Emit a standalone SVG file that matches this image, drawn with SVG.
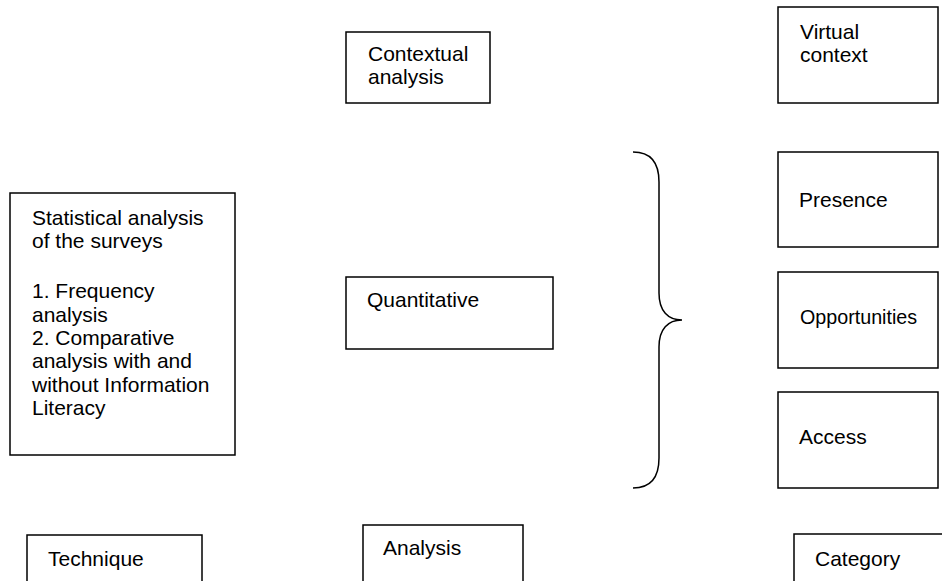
<svg xmlns="http://www.w3.org/2000/svg" width="942" height="581" viewBox="0 0 942 581">
<style>
.box{fill:#fff;stroke:#000;stroke-width:1.5}
.t{font-family:"Liberation Sans",Arial,sans-serif;font-size:21px;fill:#000}
.br{fill:none;stroke:#000;stroke-width:1.5}
</style>
<rect width="942" height="581" fill="#fff"/>
<g id="connectors">
<path class="br" d="M633,152 C652,152 659,164 659,182 L659,293 C659,311 668,320 682,320 C668,320 659,329 659,347 L659,458 C659,476 652,488 633,488"/>
</g>
<g id="contextual">
<rect class="box" x="346" y="32" width="144" height="71"/>
<text class="t" x="368" y="61">Contextual</text>
<text class="t" x="368" y="84">analysis</text>
</g>
<g id="virtual">
<rect class="box" x="778" y="7" width="160" height="96"/>
<text class="t" x="800" y="39">Virtual</text>
<text class="t" x="800" y="62">context</text>
</g>
<g id="statistical">
<rect class="box" x="10" y="193" width="225" height="262"/>
<text class="t" x="32" y="225">Statistical analysis</text>
<text class="t" x="32" y="248">of the surveys</text>
<text class="t" x="32" y="298">1. Frequency</text>
<text class="t" x="32" y="322">analysis</text>
<text class="t" x="32" y="345">2. Comparative</text>
<text class="t" x="32" y="368">analysis with and</text>
<text class="t" x="32" y="392">without Information</text>
<text class="t" x="32" y="415">Literacy</text>
</g>
<g id="quantitative">
<rect class="box" x="346" y="277" width="207" height="72"/>
<text class="t" x="367" y="307">Quantitative</text>
</g>
<g id="presence">
<rect class="box" x="778" y="152" width="160" height="95"/>
<text class="t" x="799" y="207">Presence</text>
</g>
<g id="opportunities">
<rect class="box" x="778" y="272" width="160" height="96"/>
<text class="t" x="800" y="324" style="font-size:19.7px">Opportunities</text>
</g>
<g id="access">
<rect class="box" x="778" y="392" width="160" height="96"/>
<text class="t" x="799" y="444">Access</text>
</g>
<g id="technique">
<rect class="box" x="27" y="535" width="175" height="60"/>
<text class="t" x="48" y="566">Technique</text>
</g>
<g id="analysis">
<rect class="box" x="363" y="525" width="160" height="70"/>
<text class="t" x="383" y="555">Analysis</text>
</g>
<g id="category">
<rect class="box" x="794" y="534" width="160" height="60"/>
<text class="t" x="815" y="566">Category</text>
</g>
</svg>
